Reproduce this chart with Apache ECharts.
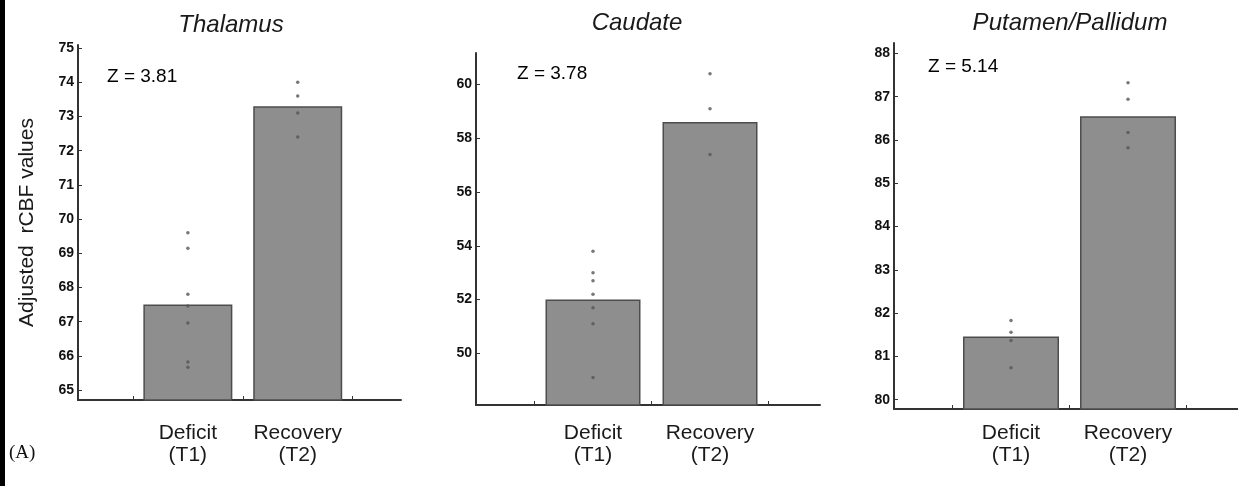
<!DOCTYPE html>
<html>
<head>
<meta charset="utf-8">
<title>Adjusted rCBF values</title>
<script src="https://cdn.jsdelivr.net/npm/echarts@6/dist/echarts.min.js"></script>
<style>
	html, body { margin: 0; padding: 0; background: #fff; }
	#chartDiv { width: 1238px; height: 486px; }
</style>
</head>
<body>
<div id="chartDiv"></div>
<script>
// data
var regions = ['Thalamus', 'Caudate', 'Putamen/Pallidum'];
var conditions = ['Deficit', 'Recovery'];
var sessions = ['T1', 'T2'];
var zScores = ['3.81', '3.78', '5.14'];

var thalamusMeans = [67.5, 73.3];
var thalamusDeficit = [69.6, 69.15, 67.8, 67.46, 66.96, 65.82, 65.67];
var thalamusRecovery = [74.0, 73.6, 73.1, 72.4];

var caudateMeans = [52.0, 58.6];
var caudateDeficit = [53.8, 53.0, 52.7, 52.2, 51.7, 51.1, 49.1];
var caudateRecovery = [60.4, 59.1, 57.4];

var putamenMeans = [81.46, 86.55];
var putamenDeficit = [81.83, 81.56, 81.37, 80.74];
var putamenRecovery = [87.32, 86.94, 86.17, 85.82];

var yTicks1 = [65, 66, 67, 68, 69, 70, 71, 72, 73, 74, 75];
var yTicks2 = [50, 52, 54, 56, 58, 60];
var yTicks3 = [80, 81, 82, 83, 84, 85, 86, 87, 88];

/**
 * 面板布局
 */
var panels = [
	{ left: 78,  top: 45, width: 323, height: 355, yMin: 64.71, yMax: 75.09, ticks: yTicks1, barWidth: 89, labelMargin: 22,
	  means: thalamusMeans, pts: [thalamusDeficit, thalamusRecovery], titleX: 231, titleY: 25, zX: 107, zY: 77 },
	{ left: 476, top: 53, width: 344, height: 352, yMin: 48.08, yMax: 61.17, ticks: yTicks2, barWidth: 95, labelMargin: 17,
	  means: caudateMeans, pts: [caudateDeficit, caudateRecovery], titleX: 637, titleY: 23, zX: 517, zY: 74 },
	{ left: 894, top: 43, width: 356, height: 366, yMin: 79.785, yMax: 88.24, ticks: yTicks3, barWidth: 96, labelMargin: 13,
	  means: putamenMeans, pts: [putamenDeficit, putamenRecovery], titleX: 1070, titleY: 23, zX: 928, zY: 67 }
];

var axisColor = '#333';

function xLabel(v) {
	var i = Math.round(v) - 1;
	return conditions[i] + '\n(' + sessions[i] + ')';
}

function buildOption() {
	var grid = [], xAxis = [], yAxis = [], series = [], graphic = [];

	graphic.push({ type: 'rect', left: 0, top: 0, shape: { width: 5, height: 486 }, style: { fill: '#000' } });
	graphic.push({ type: 'text', left: 9, top: 444,
		style: { text: '(A)', font: '19px "Liberation Serif", serif', fill: '#111' } });

	panels.forEach(function(p, k) {
		grid.push({ left: p.left, top: p.top, width: p.width, height: p.height, containLabel: false });

		xAxis.push({
			type: 'value', gridIndex: k, min: 0, max: 2.94,
			axisLine: { show: true, onZero: false, lineStyle: { color: axisColor, width: 2 } },
			axisTick: { show: true, inside: true, length: 4, customValues: [0.5, 1.5, 2.5],
				lineStyle: { color: axisColor, width: 1 } },
			axisLabel: { show: true, customValues: [1, 2], formatter: xLabel, margin: p.labelMargin,
				fontSize: 21, lineHeight: 22, color: '#1a1a1a', fontFamily: 'Liberation Sans, Arial' },
			splitLine: { show: false }
		});

		yAxis.push({
			type: 'value', gridIndex: k, min: p.yMin, max: p.yMax,
			name: k === 0 ? 'Adjusted  rCBF values' : '',
			nameLocation: 'middle', nameGap: 40, nameRotate: 90,
			nameTextStyle: { fontSize: 21, color: '#1a1a1a', fontFamily: 'Liberation Sans, Arial' },
			axisLine: { show: true, onZero: false, lineStyle: { color: axisColor, width: 2 } },
			axisTick: { show: true, inside: true, length: 4, customValues: p.ticks,
				lineStyle: { color: axisColor, width: 1 } },
			axisLabel: { show: true, customValues: p.ticks, margin: 4, fontSize: 14,
				color: '#111', fontWeight: 'bold', fontFamily: 'Liberation Sans Narrow, Liberation Sans, Arial' },
			splitLine: { show: false }
		});

		series.push({
			type: 'bar', xAxisIndex: k, yAxisIndex: k, barWidth: p.barWidth,
			itemStyle: { color: '#8e8e8e', borderColor: '#4d4d4d', borderWidth: 1.5 },
			data: p.means.map(function(m, i) { return [i + 1, m]; }),
			silent: true, z: 2
		});

		var dots = [];
		p.pts.forEach(function(arr, i) {
			arr.forEach(function(v) { dots.push([i + 1, v]); });
		});
		series.push({
			type: 'scatter', xAxisIndex: k, yAxisIndex: k, symbol: 'circle', symbolSize: 3.5,
			itemStyle: { color: '#555' }, data: dots, silent: true, z: 3
		});

		graphic.push({ type: 'text', x: p.titleX, y: p.titleY,
			style: { text: regions[k], font: 'italic 24px "Liberation Sans", Arial', fill: '#1a1a1a',
				textAlign: 'center', textVerticalAlign: 'middle' } });
		graphic.push({ type: 'text', x: p.zX, y: p.zY,
			style: { text: 'Z = ' + zScores[k], font: '19px "Liberation Sans", Arial', fill: '#000',
				textAlign: 'left', textVerticalAlign: 'middle' } });
	});

	return {
		backgroundColor: '#fff',
		animation: false,
		grid: grid, xAxis: xAxis, yAxis: yAxis, series: series, graphic: graphic
	};
}

var myChart = echarts.init(document.getElementById('chartDiv'));
myChart.setOption(buildOption());
</script>
</body>
</html>
